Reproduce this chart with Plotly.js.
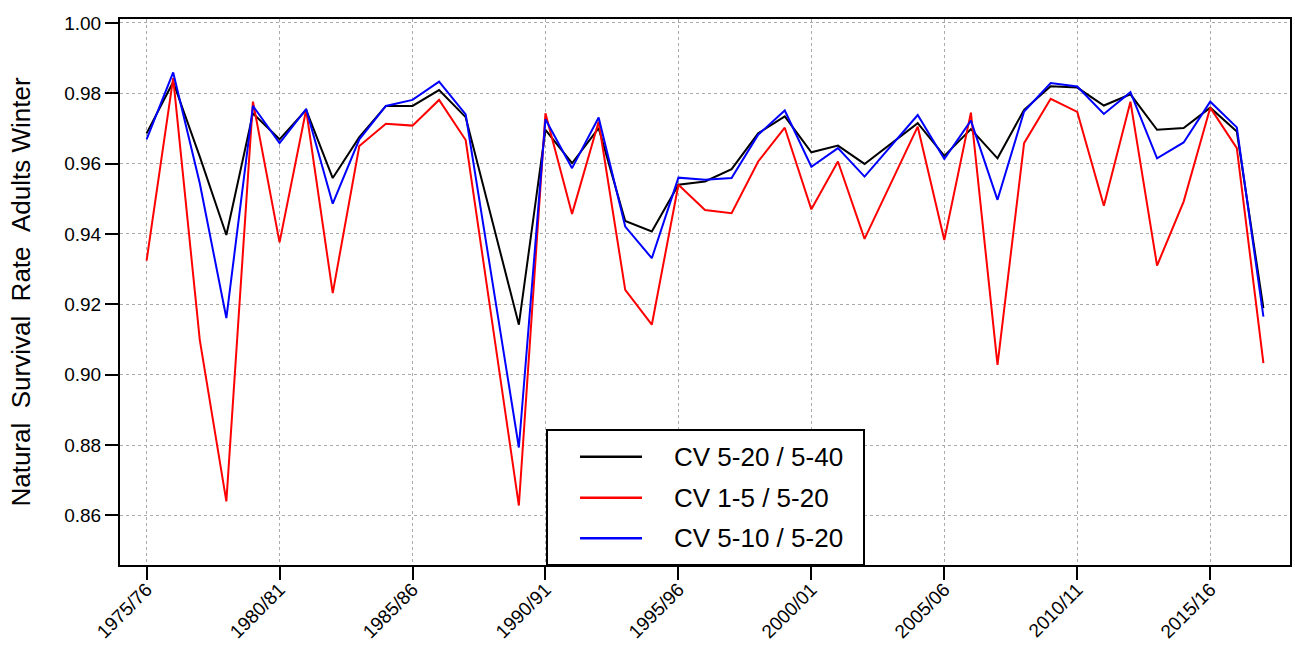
<!DOCTYPE html>
<html>
<head>
<meta charset="utf-8">
<script src="https://cdn.plot.ly/plotly-3.0.1.min.js"></script>
<style>html,body{margin:0;padding:0;background:#fff;}#chart{width:1295px;height:646px;}</style>
</head>
<body>
<div id="chart"></div>
<script>
const seasons = ["1975/76","1976/77","1977/78","1978/79","1979/80","1980/81","1981/82","1982/83","1983/84","1984/85",
  "1985/86","1986/87","1987/88","1988/89","1989/90","1990/91","1991/92","1992/93","1993/94","1994/95",
  "1995/96","1996/97","1997/98","1998/99","1999/00","2000/01","2001/02","2002/03","2003/04","2004/05",
  "2005/06","2006/07","2007/08","2008/09","2009/10","2010/11","2011/12","2012/13","2013/14","2014/15",
  "2015/16","2016/17","2017/18"];
const tickLabels = ["1975/76","1980/81","1985/86","1990/91","1995/96","2000/01","2005/06","2010/11","2015/16"];
const yTicks = [0.86,0.88,0.90,0.92,0.94,0.96,0.98,1.00];
const seriesNames = ["CV 5-20 / 5-40","CV 1-5 / 5-20","CV 5-10 / 5-20"];
const seriesColors = ["#000000","#ff0000","#0000ff"];
const cv520_540 = [0.9686,0.9832,0.9620,0.9397,0.9743,0.9669,0.9753,0.9559,0.9675,0.9764,
  0.9764,0.9809,0.9732,0.9440,0.9142,0.9696,0.9601,0.9701,0.9437,0.9407,
  0.9540,0.9549,0.9584,0.9686,0.9734,0.9632,0.9651,0.9599,0.9658,0.9715,
  0.9622,0.9698,0.9615,0.9753,0.9820,0.9816,0.9765,0.9797,0.9696,0.9701,
  0.9759,0.9691,0.9189];
const cv15_520 = [0.9324,0.9843,0.9099,0.8640,0.9776,0.9376,0.9753,0.9232,0.9650,0.9713,
  0.9708,0.9781,0.9667,0.9148,0.8628,0.9743,0.9457,0.9719,0.9241,0.9142,
  0.9540,0.9468,0.9459,0.9606,0.9702,0.9470,0.9606,0.9386,0.9546,0.9705,
  0.9383,0.9745,0.9028,0.9658,0.9784,0.9747,0.9480,0.9776,0.9310,0.9492,
  0.9759,0.9644,0.9033];
const cv510_520 = [0.9669,0.9859,0.9544,0.9161,0.9764,0.9658,0.9755,0.9486,0.9669,0.9764,
  0.9781,0.9833,0.9740,0.9267,0.8793,0.9726,0.9587,0.9731,0.9421,0.9331,
  0.9560,0.9554,0.9559,0.9682,0.9751,0.9591,0.9644,0.9563,0.9651,0.9738,
  0.9613,0.9722,0.9497,0.9748,0.9829,0.9819,0.9741,0.9803,0.9615,0.9660,
  0.9776,0.9703,0.9165];
const allSeries = [cv520_540, cv15_520, cv510_520];

const FONT = "Arial, 'Liberation Sans', sans-serif";
const traces = allSeries.map((vals, k) => ({
  type: "scatter", mode: "lines", x: seasons, y: vals, name: seriesNames[k],
  line: {color: seriesColors[k], width: 2}, hoverinfo: "x+y+name"
}));

// plot area in pixels
const L = 120, R = 5, T = 19, B = 81, W = 1295, H = 646;
const pw = W - L - R, ph = H - T - B;
const px = v => (v - L) / pw;
const py = v => (H - B - v) / ph;

const shapes = [{type: "rect", xref: "paper", yref: "paper", x0: px(547), x1: px(864), y0: py(565), y1: py(430),
  line: {color: "#000", width: 2}, fillcolor: "#ffffff", layer: "above"}];
const annotations = [];
const rowsY = [456.7, 497.7, 538.3];
seriesNames.forEach((n, k) => {
  shapes.push({type: "line", xref: "paper", yref: "paper", x0: px(580), x1: px(642), y0: py(rowsY[k]), y1: py(rowsY[k]),
    line: {color: seriesColors[k], width: 2.5}, layer: "above"});
  annotations.push({xref: "paper", yref: "paper", x: px(672), y: py(rowsY[k]), xanchor: "left", yanchor: "middle",
    text: n, showarrow: false, font: {family: FONT, size: 26, color: "#000"}});
});

const layout = {
  width: W, height: H,
  margin: {l: L, r: R, t: T, b: B, pad: 0},
  paper_bgcolor: "#fff", plot_bgcolor: "#fff",
  showlegend: false,
  font: {family: FONT, color: "#000"},
  xaxis: {
    type: "category", range: [-1, 43],
    tickmode: "array", tickvals: tickLabels, ticktext: tickLabels,
    tickangle: -45, tickfont: {family: FONT, size: 19, color: "#000"},
    ticks: "outside", ticklen: 13, tickwidth: 2, tickcolor: "#000", ticklabelstandoff: -9,
    showline: true, linecolor: "#000", linewidth: 2, mirror: true,
    showgrid: true, gridcolor: "#aaaaaa", gridwidth: 1, griddash: "dot",
    zeroline: false, automargin: false
  },
  yaxis: {
    range: [0.8459, 1.0011],
    tickmode: "array", tickvals: yTicks, ticktext: yTicks.map(v => v.toFixed(2)),
    tickfont: {family: FONT, size: 19, color: "#000"},
    ticks: "outside", ticklen: 13, tickwidth: 2, tickcolor: "#000",
    showline: true, linecolor: "#000", linewidth: 2, mirror: true,
    showgrid: true, gridcolor: "#aaaaaa", gridwidth: 1, griddash: "dot",
    zeroline: false, automargin: false,
    title: {text: "Natural\u00a0\u00a0Survival\u00a0\u00a0Rate\u00a0\u00a0Adults Winter", font: {family: FONT, size: 26, color: "#000"}, standoff: 26}
  },
  shapes: shapes,
  annotations: annotations
};

Plotly.newPlot("chart", traces, layout, {displayModeBar: false});
</script>
</body>
</html>
